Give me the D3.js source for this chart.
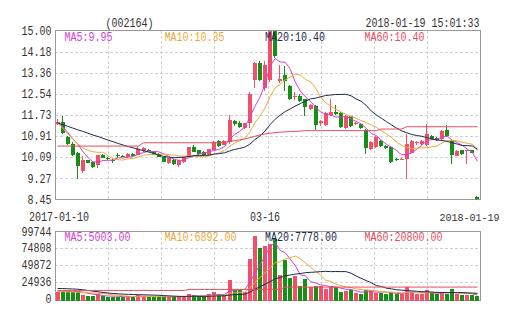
<!DOCTYPE html>
<html><head><meta charset="utf-8">
<script src="https://cdnjs.cloudflare.com/ajax/libs/d3/7.8.5/d3.min.js"></script>
<style>body{margin:0;background:#fff}svg{display:block}</style>
</head><body>
<svg id="c" width="505" height="330"></svg>
<script>
// ---------- data ----------
const stockCode = "(002164)";
const stamp = "2018-01-19 15:01:33";
const xLabelIndex = [0, 41, 83];
const xLabelText = ["2017-01-10", "03-16", "2018-01-19"];
const priceTicks = [8.45, 9.26875, 10.0875, 10.90625, 11.725, 12.54375, 13.3625, 14.18125, 15.00];
const priceTickLabels = ["8.45", "9.27", "10.09", "10.91", "11.73", "12.54", "13.36", "14.18", "15.00"];
const volTicks = [0, 24936, 49872, 74808, 99744];
const volTickLabels = ["0", "24936", "49872", "74808", "99744"];
const priceLegend = ["MA5:9.95", "MA10:10.35", "MA20:10.40", "MA60:10.40"];
const volLegend = ["MA5:5003.00", "MA10:6892.00", "MA20:7778.00", "MA60:20800.00"];

const opens = [11.36,11.47,10.89,10.62,10.27,9.55,9.97,9.90,9.77,10.19,
 10.07,10.00,10.18,10.13,10.10,10.22,10.19,10.33,10.38,10.31,
 10.22,10.10,9.86,10.00,9.80,9.90,10.10,10.49,10.36,10.30,
 10.17,10.35,10.73,10.57,10.66,11.51,11.40,11.24,11.40,13.10,
 13.75,12.76,13.10,14.98,13.05,13.29,12.83,12.43,12.48,12.33,
 11.94,12.09,11.40,11.34,11.74,11.86,11.82,11.22,11.67,11.37,
 11.36,11.16,10.39,10.47,10.72,10.52,10.48,10.03,9.99,10.02,
 10.27,10.63,10.60,10.56,10.92,10.83,10.80,11.14,10.72,10.15,
 10.35,10.32,10.35,8.56];
const closes = [11.47,11.01,10.60,10.19,9.75,10.00,9.87,9.72,10.16,10.07,
 10.02,9.95,10.16,10.11,10.22,10.15,10.39,10.46,10.36,10.18,
 10.11,9.92,10.04,9.82,9.97,10.08,10.47,10.31,10.21,10.17,
 10.39,10.68,10.53,10.73,11.55,11.36,11.26,11.40,12.55,13.75,
 13.10,13.68,15.00,14.00,13.12,13.03,12.35,12.47,12.26,12.02,
 12.13,11.32,11.48,11.81,11.86,11.76,11.27,11.69,11.28,11.42,
 11.23,10.45,10.68,10.87,10.52,10.45,9.90,10.00,10.02,10.62,
 10.72,10.66,10.72,10.97,10.80,10.74,11.11,10.91,10.19,10.34,
 10.21,10.35,10.27,8.46];
const highs = [11.56,11.69,10.93,10.66,10.31,10.12,10.00,9.93,10.18,10.22,
 10.10,10.03,10.26,10.17,10.25,10.25,10.54,10.49,10.42,10.33,
 10.24,10.12,10.06,10.03,10.00,10.10,10.50,10.56,10.38,10.32,
 10.42,10.72,10.76,10.76,11.74,11.55,11.50,11.43,12.60,13.78,
 13.80,13.80,15.00,15.00,13.68,13.62,12.88,12.63,12.52,12.36,
 12.17,12.12,11.55,11.84,12.33,12.10,11.86,11.72,11.70,11.46,
 11.40,11.20,10.72,10.90,10.76,10.58,10.52,10.06,10.05,10.97,
 10.75,10.70,10.76,11.36,10.95,10.88,11.14,11.32,10.76,10.37,
 10.38,10.38,10.38,8.58];
const lows = [11.32,10.97,10.56,10.12,9.24,9.47,9.85,9.68,9.68,10.05,
 9.98,9.88,10.07,10.08,10.07,10.13,10.17,10.30,10.33,10.16,
 10.09,9.90,9.84,9.80,9.72,9.88,10.08,10.29,10.19,10.15,
 10.15,10.33,10.50,10.55,10.62,11.30,11.22,11.20,11.24,12.78,
 13.05,12.65,13.00,13.95,12.98,12.65,12.30,12.29,12.22,11.67,
 11.90,11.16,11.28,11.30,11.70,11.72,11.22,11.18,11.25,11.33,
 11.20,10.21,10.36,10.43,10.48,10.41,9.86,9.96,9.97,9.24,
 10.25,10.58,10.57,10.52,10.77,10.70,10.77,10.88,9.83,10.12,
 10.18,9.82,10.25,8.45];
const volumes = [10000,11500,11000,9500,10500,5000,3500,3500,6000,3000,
 2500,2500,2800,2200,3500,2500,5000,3500,2500,2500,
 2500,3000,2500,2500,3000,3000,6300,4500,3000,3000,
 6000,10000,6000,5500,27700,12500,12500,10000,58200,93300,
 75750,78300,80700,88200,35700,58000,30000,33000,18750,28500,
 17000,18000,19000,14000,18000,17000,9000,10500,13000,7500,
 6500,13000,12500,7500,8500,6000,10000,6000,6000,17000,
 9000,6000,6000,12000,8500,6500,8500,6500,14000,6500,
 5000,5500,4500,3500];

const ma5 = [11.42,11.28,11.05,10.80,10.60,10.31,10.08,9.91,9.90,9.96,
 9.97,9.98,10.07,10.06,10.09,10.12,10.21,10.27,10.32,10.31,
 10.30,10.21,10.12,10.01,9.97,9.97,10.08,10.13,10.21,10.25,
 10.31,10.35,10.40,10.50,10.78,10.97,11.09,11.26,11.62,12.06,
 12.41,12.90,13.62,13.91,13.78,13.77,13.50,12.99,12.65,12.43,
 12.25,12.04,11.84,11.75,11.72,11.65,11.64,11.68,11.57,11.48,
 11.38,11.21,11.01,10.93,10.75,10.59,10.48,10.35,10.18,10.20,
 10.25,10.40,10.55,10.74,10.77,10.78,10.87,10.91,10.75,10.66,
 10.55,10.40,10.27,9.93];
const ma10 = [11.42,11.22,11.00,10.80,10.60,10.45,10.35,10.30,10.28,10.28,
 10.14,10.03,9.99,9.98,10.03,10.04,10.10,10.17,10.19,10.20,
 10.21,10.21,10.19,10.17,10.14,10.13,10.14,10.13,10.11,10.11,
 10.14,10.21,10.26,10.35,10.51,10.64,10.72,10.83,11.06,11.42,
 11.69,11.99,12.44,12.77,12.92,13.09,13.20,13.31,13.28,13.10,
 13.01,12.77,12.42,12.20,12.07,11.95,11.84,11.76,11.66,11.60,
 11.51,11.43,11.35,11.25,11.12,10.99,10.85,10.68,10.55,10.47,
 10.42,10.44,10.45,10.46,10.49,10.52,10.64,10.73,10.74,10.72,
 10.67,10.63,10.59,10.34];
const ma20 = [11.42,11.35,11.29,11.22,11.15,11.09,11.02,10.95,10.89,10.82,
 10.75,10.69,10.62,10.56,10.50,10.45,10.40,10.34,10.29,10.24,
 10.17,10.12,10.09,10.07,10.08,10.09,10.12,10.15,10.15,10.16,
 10.17,10.21,10.23,10.26,10.33,10.39,10.43,10.48,10.59,10.77,
 10.91,11.10,11.35,11.56,11.72,11.86,11.96,12.07,12.17,12.26,
 12.35,12.38,12.43,12.48,12.50,12.52,12.52,12.53,12.47,12.35,
 12.26,12.10,11.88,11.73,11.60,11.47,11.34,11.22,11.11,11.04,
 10.97,10.93,10.90,10.85,10.80,10.75,10.74,10.70,10.65,10.60,
 10.54,10.54,10.52,10.40];
const ma60 = [10.52,10.52,10.52,10.52,10.52,10.52,10.52,10.52,10.52,10.52,
 10.52,10.52,10.52,10.52,10.52,10.52,10.52,10.65,10.65,10.65,
 10.65,10.65,10.65,10.65,10.65,10.65,10.65,10.65,10.65,10.65,
 10.65,10.65,10.65,10.67,10.70,10.73,10.76,10.80,10.84,10.90,
 10.95,10.99,11.02,11.04,11.06,11.07,11.08,11.09,11.10,11.12,
 11.12,11.12,11.12,11.12,11.12,11.12,11.12,11.12,11.12,11.12,
 11.12,11.12,11.12,11.12,11.18,11.18,11.18,11.18,11.18,11.27,
 11.27,11.27,11.27,11.27,11.27,11.27,11.27,11.27,11.27,11.27,
 11.27,11.27,11.27,11.27];

const vma5 = [10000,10500,10800,10500,10500,9500,7900,6400,5700,4200,
 3700,3500,3360,2600,2700,2700,3200,3340,3400,3200,
 3200,2800,2600,2600,2700,2800,3460,3860,3960,3960,
 4560,5300,5600,6100,11040,12340,12840,13640,24180,37300,
 49950,63110,77250,83250,71730,68180,58520,48980,35090,33650,
 25450,23050,20250,19300,17200,17200,15400,13700,13500,11400,
 9300,10100,10500,9400,9600,9500,8900,7600,7300,9000,
 9600,8800,8800,10000,8300,7800,8300,8400,8800,8400,
 8100,7500,7100,5000];
const vma10 = [10500,10300,10000,9700,9400,9000,8600,8100,7700,7350,
 6600,5700,4880,4150,3450,3200,3350,3350,3000,2950,
 2950,3000,2970,3000,2950,3000,3130,3230,3280,3330,
 3680,4380,4730,5030,7500,8450,9070,9620,15140,24170,
 31145,37975,45445,53715,54515,59065,60815,63115,59170,52690,
 46815,40785,34615,27195,25425,21325,19225,16975,16400,14300,
 13250,12750,12100,11450,10500,9400,9500,9050,8350,9300,
 9550,8850,8200,8650,8650,8700,8550,8600,9400,8350,
 7950,7900,7750,6900];
const vma20 = [15000,14800,14500,14200,13800,13000,12000,11000,10000,9000,
 8200,7500,7000,6500,6200,5900,5700,5500,5300,5150,
 4775,4350,3925,3575,3200,3100,3240,3290,3140,3140,
 3315,3690,3850,4015,5225,5725,6100,6425,9210,13750,
 17413,21178,25088,29373,31008,33758,34943,36368,37155,38430,
 38980,39380,40030,40455,39970,40195,40020,40045,37785,33495,
 30033,26768,23358,19323,17963,15363,14363,13013,12375,11800,
 11400,10800,10150,10050,9575,9050,9025,8825,8875,8825,
 8750,8375,7975,7775];
const vma60 = [12000,12000,12000,12000,12000,12000,12000,12000,12000,12000,
 12000,12000,12000,12000,12000,12000,12000,12000,12000,12000,
 12000,12000,12000,12000,12000,12000,13500,13500,13500,13500,
 13500,13500,13500,13500,13500,13500,13500,13500,13500,13500,
 13500,13500,13500,13500,13500,17000,17000,17000,17000,17000,
 17000,17000,17000,17000,17000,17000,17000,17000,17000,17000,
 17000,17000,17000,17000,17000,17000,17000,17000,17000,17000,
 17000,17000,17000,17000,17000,17000,17000,17000,17000,17000,
 17000,17000,17000,17000];

// ---------- styles ----------
const RED = "#f2506a", GREEN = "#168f16";
const maColors = ["#d23fd2", "#eeaa38", "#1b2b4e", "#e64c5c"];
const FONT = "'Liberation Mono','DejaVu Sans Mono',monospace";
const CH = 6; // px per character

// ---------- layout ----------
const svg = d3.select("#c");
const N = closes.length;
const idx = d3.range(N);
const L = 55, R = 480;
const x = d3.scaleBand().domain(idx).range([L, R]).paddingInner(0.2).paddingOuter(0.1);
const cx = i => x(i) + x.bandwidth() / 2;
const yP = d3.scaleLinear().domain([8.45, 15]).range([199.5, 30.5]);
const yV = d3.scaleLinear().domain([0, 99744]).range([298.5, 231.5]);
const gx = d3.scaleLinear().domain([0, 8]).range([L, R]);

function txt(g, s, xx, yy, color, anchor, size) {
  return g.append("text").text(s)
    .attr("x", xx).attr("y", yy)
    .attr("fill", color).attr("text-anchor", anchor || "start")
    .attr("font-family", FONT).attr("font-size", size || 12)
    .attr("textLength", s.length * CH).attr("lengthAdjust", "spacingAndGlyphs");
}

function panelGrid(yTop, yBot, hVals) {
  const g = svg.append("g").attr("stroke", "#d2d2d2").attr("stroke-dasharray", "3,2").attr("shape-rendering", "crispEdges");
  d3.range(1, 8).forEach(k => {
    const xx = Math.round(gx(k)) + 0.5;
    g.append("line").attr("x1", xx).attr("x2", xx).attr("y1", yTop).attr("y2", yBot);
  });
  hVals.forEach(yy => {
    g.append("line").attr("x1", L).attr("x2", R).attr("y1", Math.round(yy) + 0.5).attr("y2", Math.round(yy) + 0.5);
  });
}

// price grid + frame
panelGrid(30.5, 199.5, priceTicks.slice(1, -1).map(yP));
svg.append("rect").attr("x", L + 0.5).attr("y", 30.5).attr("width", R - L).attr("height", 169)
  .attr("fill", "none").attr("stroke", "#999").attr("shape-rendering", "crispEdges");
// volume grid + frame
panelGrid(231.5, 300.5, volTicks.slice(1, -1).map(yV));
svg.append("rect").attr("x", L + 0.5).attr("y", 231.5).attr("width", R - L).attr("height", 69)
  .attr("fill", "none").attr("stroke", "#999").attr("shape-rendering", "crispEdges");

// axis labels
const axg = svg.append("g");
priceTicks.forEach((t, k) => txt(axg, priceTickLabels[k], 51.5, yP(t) + 4.2, "#333", "end"));
volTicks.forEach((t, k) => txt(axg, volTickLabels[k], 51.5, yV(t) + 4.2, "#333", "end"));
txt(axg, stockCode, 105.5, 26.5, "#333");
txt(axg, stamp, 479.5, 26.5, "#333", "end");
txt(axg, xLabelText[0], cx(xLabelIndex[0]) + 1.5, 220.5, "#333", "middle");
txt(axg, xLabelText[1], cx(xLabelIndex[1]), 220.5, "#333", "middle");
txt(axg, xLabelText[2], 439.5, 220.5, "#333", "start", 10.5);

// candles
const cg = svg.append("g").attr("shape-rendering", "crispEdges");
idx.forEach(i => {
  const up = closes[i] >= opens[i];
  const col = up ? RED : GREEN;
  const c = Math.round(cx(i));
  cg.append("line").attr("x1", c - 0.5).attr("x2", c - 0.5)
    .attr("y1", yP(highs[i])).attr("y2", yP(lows[i])).attr("stroke", col);
  const y1 = yP(Math.max(opens[i], closes[i])), y2 = yP(Math.min(opens[i], closes[i]));
  cg.append("rect").attr("x", c - 2).attr("width", 4)
    .attr("y", y1).attr("height", Math.max(1, y2 - y1)).attr("fill", col);
});

// volume bars
const vg = svg.append("g").attr("shape-rendering", "crispEdges");
idx.forEach(i => {
  const col = closes[i] >= opens[i] ? RED : GREEN;
  const c = Math.round(cx(i));
  const top = yV(volumes[i]);
  vg.append("rect").attr("x", c - 2).attr("width", 4)
    .attr("y", top).attr("height", 301 - top).attr("fill", col);
});

// MA lines
const priceLine = d3.line().x((d, i) => cx(i)).y(d => yP(d));
const volLine = d3.line().x((d, i) => cx(i)).y(d => yV(d));
[ma5, ma10, ma20, ma60].forEach((s, k) => {
  svg.append("path").attr("d", priceLine(s)).attr("fill", "none").attr("stroke", maColors[k]).attr("stroke-width", 1);
});
[vma5, vma10, vma20, vma60].forEach((s, k) => {
  svg.append("path").attr("d", volLine(s)).attr("fill", "none").attr("stroke", maColors[k]).attr("stroke-width", 1);
});

// legends
const legX = [64.5, 164.5, 265, 364.5];
const lg = svg.append("g");
priceLegend.forEach((s, k) => txt(lg, s, legX[k], 40.5, maColors[k]));
volLegend.forEach((s, k) => txt(lg, s, legX[k], 241, maColors[k]));
</script>
</body></html>
